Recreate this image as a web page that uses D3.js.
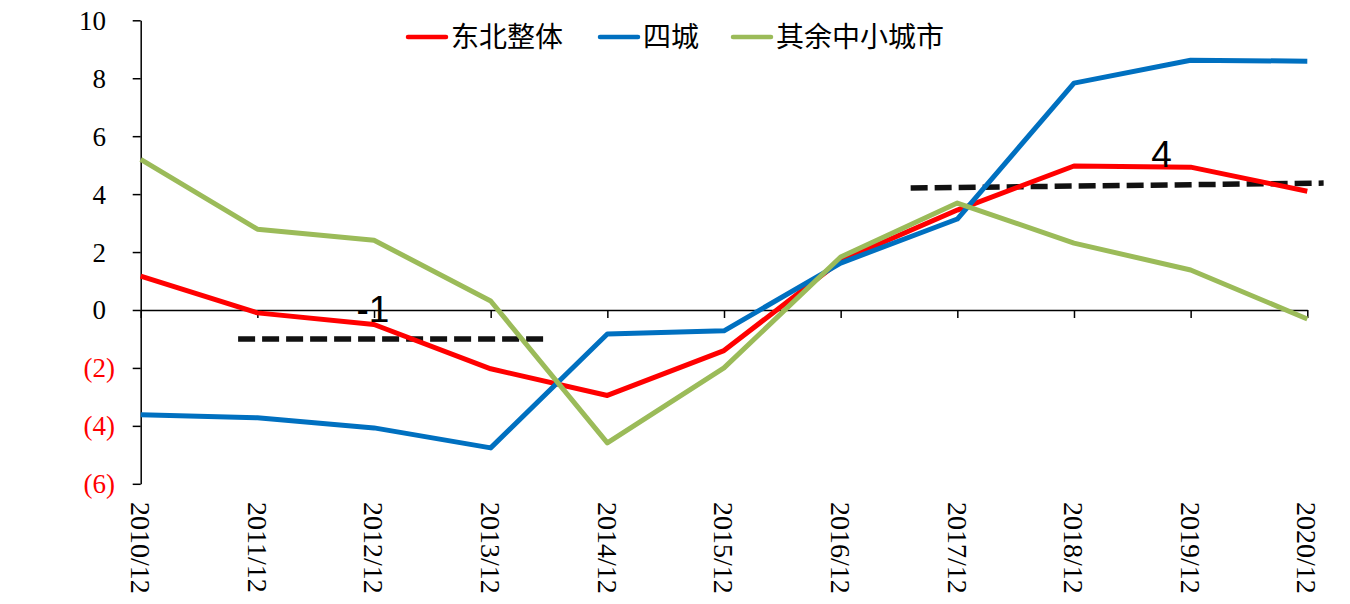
<!DOCTYPE html>
<html>
<head>
<meta charset="utf-8">
<script src="https://cdn.jsdelivr.net/npm/d3@7"></script>
<style>
  html, body { margin: 0; padding: 0; background: #fff; }
  svg { display: block; }
</style>
</head>
<body>
<svg id="chart" width="1350" height="604"></svg>
<script>
const categories = ["2010/12", "2011/12", "2012/12", "2013/12", "2014/12", "2015/12",
  "2016/12", "2017/12", "2018/12", "2019/12", "2020/12"];
const seriesNames = ["东北整体", "四城", "其余中小城市"];
const northeast = [1.17, -0.1, -0.5, -2.03, -2.95, -1.4, 1.7, 3.45, 4.97, 4.93, 4.1];
const fourCities = [-3.62, -3.72, -4.07, -4.76, -0.83, -0.72, 1.62, 3.14, 7.83, 8.62, 8.59];
const otherCities = [5.2, 2.79, 2.41, 0.31, -4.59, -2.0, 1.83, 3.69, 2.31, 1.38, -0.31];
const yTicks = [10, 8, 6, 4, 2, 0, -2, -4, -6];
// average lines: [start index, end index, start value, end value]
const avgLines = [[0.835, 3.45, -1.0, -1.0], [6.6, 10.14, 4.21, 4.38]];
// average labels: [index, value, text]
const avgLabels = [[1.99, -0.41, "-1"], [8.75, 4.93, "4"]];

const colors = ["#ff0000", "#0070c0", "#9bbb59"];
const series = [northeast, fourCities, otherCities];

const svg = d3.select("#chart");

const x = d3.scalePoint().domain(categories).range([140.7, 1307.3]);
const xi = d3.scaleLinear().domain([0, categories.length - 1]).range(x.range());
const y = d3.scaleLinear().domain([-6, 10]).range([483.8, 20.3]);

// y axis
const yAxis = svg.append("g")
  .attr("transform", "translate(" + x.range()[0] + ",0)")
  .call(d3.axisLeft(y).tickValues(yTicks).tickSize(8).tickSizeOuter(0).tickFormat(""));
yAxis.selectAll("path, line").attr("stroke", "#000").attr("stroke-width", 1.5);

// y labels, accounting style: negatives red in brackets
const yFont = 27;
const parenW = yFont * 0.333;
svg.append("g").selectAll("text")
  .data(yTicks)
  .join("text")
  .attr("x", d => d < 0 ? 115 : 115 - parenW)
  .attr("y", d => y(d))
  .attr("dy", "0.35em")
  .attr("text-anchor", "end")
  .attr("font-family", "'Liberation Serif', 'Times New Roman', serif")
  .attr("font-size", yFont + "px")
  .attr("fill", d => d < 0 ? "#ff0000" : "#000")
  .text(d => d < 0 ? "(" + Math.abs(d) + ")" : d);

// x axis crossing at zero
const xAxis = svg.append("g")
  .attr("transform", "translate(0," + y(0) + ")")
  .call(d3.axisBottom(x).tickSize(8).tickSizeOuter(0).tickFormat(""));
xAxis.selectAll("path, line").attr("stroke", "#000").attr("stroke-width", 1.5);

// x labels, rotated, at the bottom
svg.append("g").selectAll("text")
  .data(categories)
  .join("text")
  .attr("transform", d => "translate(" + x(d) + ",502) rotate(90)")
  .attr("dy", "0.35em")
  .attr("text-anchor", "start")
  .attr("font-family", "'Liberation Serif', 'Times New Roman', serif")
  .attr("font-size", "28px")
  .attr("fill", "#000")
  .text(d => d);

// average dashed lines
svg.append("g").selectAll("line")
  .data(avgLines)
  .join("line")
  .attr("x1", d => xi(d[0]))
  .attr("x2", d => xi(d[1]))
  .attr("y1", d => y(d[2]))
  .attr("y2", d => y(d[3]))
  .attr("stroke", "#111")
  .attr("stroke-width", 5.5)
  .attr("stroke-dasharray", "17,7");

// series lines
const line = d3.line()
  .x((d, i) => x(categories[i]))
  .y(d => y(d));

svg.append("g").selectAll("path")
  .data(series)
  .join("path")
  .attr("d", d => line(d))
  .attr("fill", "none")
  .attr("stroke", (d, i) => colors[i])
  .attr("stroke-width", 5)
  .attr("stroke-linejoin", "round");

// average labels
svg.append("g").selectAll("text")
  .data(avgLabels)
  .join("text")
  .attr("x", d => xi(d[0]))
  .attr("y", d => y(d[1]))
  .attr("text-anchor", "middle")
  .attr("font-family", "'Liberation Sans', Arial, sans-serif")
  .attr("font-size", "37px")
  .attr("fill", "#000")
  .text(d => d[2]);

// legend
const legendX = [406, 598, 731];
const legend = svg.append("g").selectAll("g")
  .data(seriesNames)
  .join("g")
  .attr("transform", (d, i) => "translate(" + legendX[i] + ",37)");
legend.append("line")
  .attr("x1", 2).attr("x2", 40)
  .attr("stroke", (d, i) => colors[i])
  .attr("stroke-width", 4.5)
  .attr("stroke-linecap", "round");
legend.append("text")
  .attr("x", 45)
  .attr("dy", "0.36em")
  .attr("font-family", "'Noto Sans CJK SC', sans-serif")
  .attr("font-size", "28px")
  .attr("fill", "#000")
  .text(d => d);
</script>
</body>
</html>
